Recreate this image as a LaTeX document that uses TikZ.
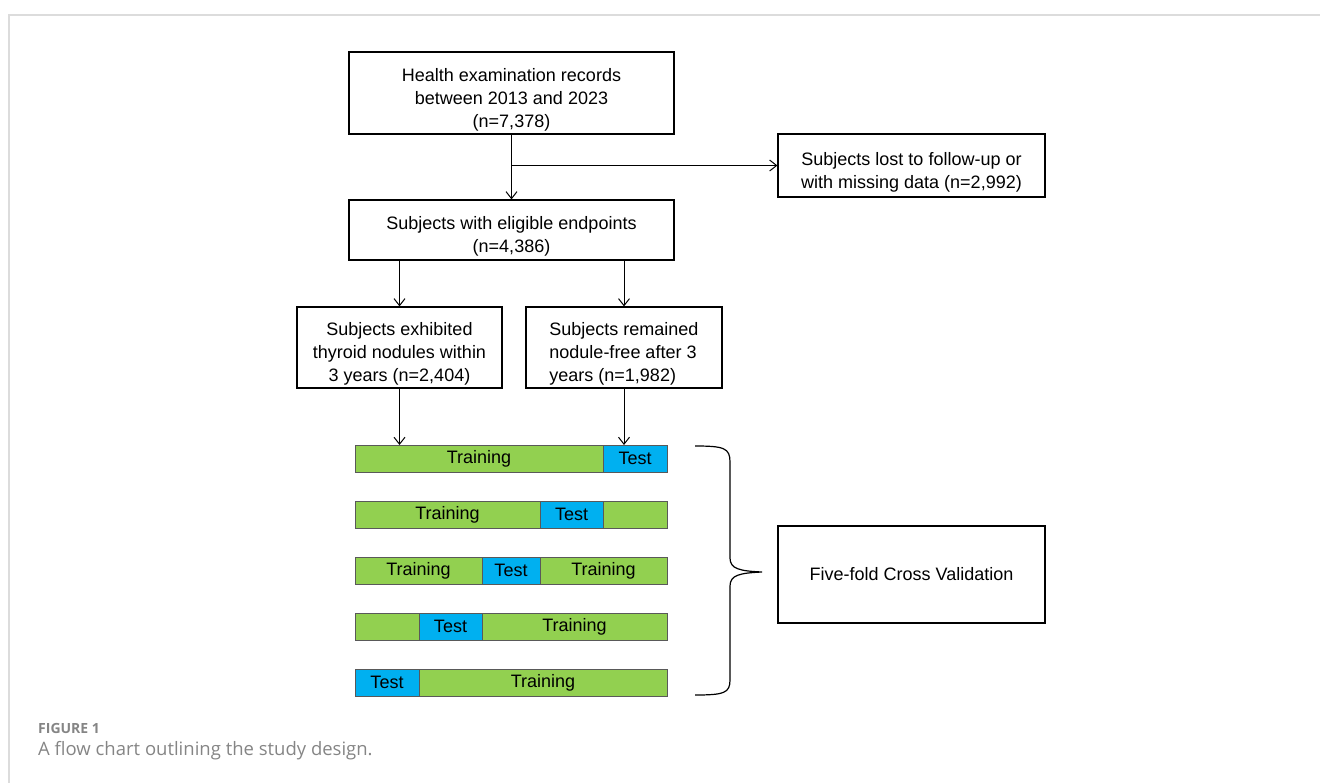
\documentclass[tikz,border=0pt]{standalone}
\usepackage{fontspec}
\setmainfont{Liberation Sans}
\newfontfamily\captionfont{Open Sans}
\usepackage{tikz}
\usetikzlibrary{arrows.meta}
\usetikzlibrary{positioning}
\definecolor{foldgreen}{HTML}{92D050}
\definecolor{foldblue}{HTML}{00B0F0}
\definecolor{framegray}{HTML}{DCDCDC}
\definecolor{captiongray}{HTML}{858585}
\newcommand{\toppad}{\rule{0pt}{26pt}}
\tikzset{
flow box/.style = { rectangle, draw = black, line width = 1.2pt, fill = white, align = center, inner sep = 0pt, font = \fontsize{18}{23}\selectfont },
flow arrow/.style = { -{Straight Barb[length = 7pt, width = 11pt]}, line width = 1pt },
fold/.style = { rectangle, draw = black!65, line width = 0.9pt, minimum height = 27pt, inner sep = 0pt, outer sep = 0pt, anchor = west, font = \fontsize{18}{20}\selectfont },
training/.style = { fold, fill = foldgreen },
testing/.style = { fold, fill = foldblue },
}

\begin{document}
\begin{tikzpicture}[x = 1pt, y = -1pt]
    \useasboundingbox (0, 0) rectangle (1320, 782);
    \draw[framegray, line width = 2pt] (9, 820) -- (9, 15) -- (1340, 15);
    % flow chart boxes
    \node[flow box, minimum width = 325pt, minimum height = 82pt] (records) at (511.5, 93) {\toppad Health examination records\\between 2013 and 2023\\(n=7,378)};
    \node[flow box, minimum width = 267pt, minimum height = 63pt] (lost) at (911.5, 165.5) {\toppad Subjects lost to follow-up or\\with missing data (n=2,992)};
    \node[flow box, minimum width = 325pt, minimum height = 60pt] (eligible) at (511.5, 230) {\toppad Subjects with eligible endpoints\\(n=4,386)};
    \node[flow box, minimum width = 205pt, minimum height = 81pt] (nodules) at (399.5, 347.5) {\toppad Subjects exhibited\\thyroid nodules within\\3 years (n=2,404)};
    \node[flow box, align = left, minimum width = 196pt, minimum height = 81pt] (nodulefree) at (624, 347.5) {\toppad Subjects remained\\nodule-free after 3\\years (n=1,982)};
    \node[flow box, minimum width = 267pt, minimum height = 97pt] (crossval) at (911.5, 574.5) {Five-fold Cross Validation};
    % five folds
    \node[training, minimum width = 248pt] (b1train) at (355, 458.5) {Training};
    \node[testing, minimum width = 64pt, right = 0pt of b1train] (b1test) {Test};
    \node[training, minimum width = 185pt] (b2train) at (355, 514.5) {Training};
    \node[testing, minimum width = 63pt, right = 0pt of b2train] (b2test) {Test};
    \node[training, minimum width = 64pt, right = 0pt of b2test] (b2rest) {};
    \node[training, minimum width = 127pt] (b3train) at (355, 570.5) {Training};
    \node[testing, minimum width = 58pt, right = 0pt of b3train] (b3test) {Test};
    \node[training, minimum width = 127pt, right = 0pt of b3test] (b3rest) {Training};
    \node[training, minimum width = 64pt] (b4train) at (355, 626.5) {};
    \node[testing, minimum width = 63pt, right = 0pt of b4train] (b4test) {Test};
    \node[training, minimum width = 185pt, right = 0pt of b4test] (b4rest) {Training};
    \node[testing, minimum width = 64pt] (b5test) at (355, 682.5) {Test};
    \node[training, minimum width = 248pt, right = 0pt of b5test] (b5train) {Training};
    % connectors
    \draw[flow arrow] (records.south) -- (eligible.north);
    \draw[flow arrow] (records.south |- lost.west) -- (lost.west);
    \draw[flow arrow] (nodules |- eligible.south) -- (nodules.north);
    \draw[flow arrow] (nodulefree |- eligible.south) -- (nodulefree.north);
    \draw[flow arrow] (nodules.south) -- (nodules |- b1train.north);
    \draw[flow arrow] (nodulefree.south) -- (nodulefree |- b1test.north);
    % brace
    \draw[line width = 1.2pt] (695, 446) .. controls (724, 446) and (730, 448) .. (730, 462) -- (730, 558)
        .. controls (730, 569) and (740, 571) .. (762, 572)
        .. controls (740, 573) and (730, 575) .. (730, 586) -- (730, 680)
        .. controls (730, 693) and (724, 695) .. (695, 695);
    % caption
    \node[anchor = west, inner sep = 0pt, text = captiongray, font = \captionfont\bfseries\fontsize{14}{16}\selectfont] (figlabel) at (38, 728) {FIGURE 1};
    \node[anchor = west, inner sep = 0pt, text = captiongray, font = \captionfont\fontsize{18.5}{22}\selectfont] (figcaption) at (38, 751) {A flow chart outlining the study design.};
\end{tikzpicture}
\end{document}
